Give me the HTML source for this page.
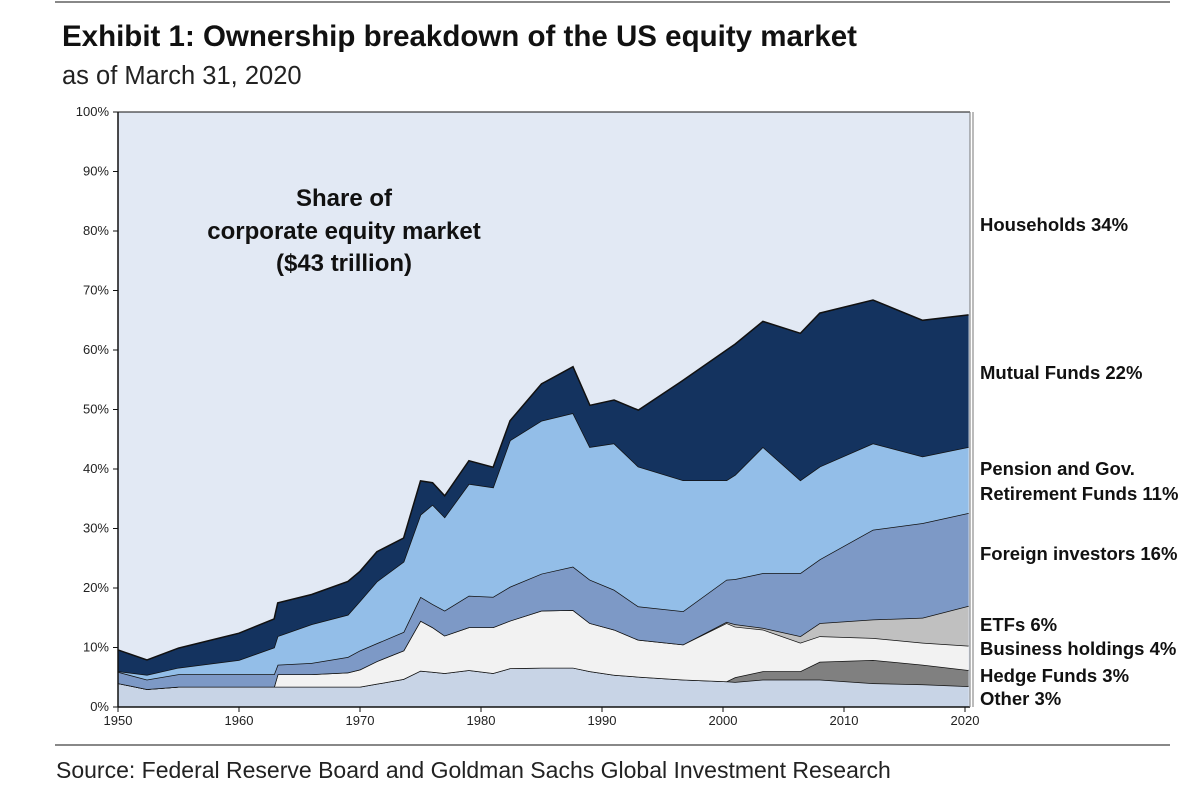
<!DOCTYPE html>
<html><head><meta charset="utf-8"><style>
html,body{margin:0;padding:0;background:#fff;}
body{width:1199px;height:801px;position:relative;overflow:hidden;font-family:"Liberation Sans",Arial,sans-serif;}
</style></head><body>
<svg id="chart" width="1199" height="801" xmlns="http://www.w3.org/2000/svg" font-family="Liberation Sans, Arial, sans-serif"></svg>
<script>
const years=[1950,1952.4,1955,1960,1962.9,1963.2,1966,1969,1970,1971.4,1973.6,1975,1976,1977,1979,1981,1982.4,1985,1987.6,1989,1991,1993,1996.7,2000.3,2001,2003.3,2006.4,2008,2012.4,2016.5,2020.3];
const other=[4.0,3.0,3.4,3.4,3.4,3.4,3.4,3.4,3.4,3.9,4.7,6.1,5.9,5.7,6.2,5.7,6.5,6.6,6.6,6.0,5.4,5.1,4.6,4.3,4.2,4.6,4.6,4.6,4.0,3.8,3.5];
const hedge=[0,0,0,0,0,0,0,0,0,0,0,0,0,0,0,0,0,0,0,0,0,0,0,0,0.8,1.4,1.4,3.0,3.9,3.3,2.7];
const business=[0,0,0,0,0,2.1,2.1,2.4,2.9,3.8,4.8,8.4,7.5,6.3,7.2,7.7,8.0,9.6,9.7,8.1,7.6,6.2,5.9,9.8,8.5,7.0,4.8,4.3,3.7,3.7,4.1];
const etfs=[0,0,0,0,0,0,0,0,0,0,0,0,0,0,0,0,0,0,0,0,0,0,0,0.2,0.4,0.3,1.1,2.2,3.1,4.2,6.7];
const foreign=[1.9,1.6,2.1,2.1,2.1,1.6,1.9,2.6,3.2,3.0,3.1,4.0,3.9,4.2,5.3,5.1,5.7,6.2,7.3,7.3,6.7,5.6,5.6,7.1,7.6,9.2,10.6,10.7,15.1,15.9,15.6];
const pension=[0.1,0.8,1.1,2.4,4.5,4.8,6.5,7.1,8.3,10.4,11.8,13.8,16.7,15.7,18.8,18.4,24.6,25.7,25.8,22.3,24.6,23.5,22.0,16.7,17.5,21.2,15.6,15.6,14.5,11.2,11.1];
const mutual=[3.6,2.5,3.3,4.5,4.8,5.6,5.0,5.6,5.0,5.0,4.0,5.7,3.7,3.6,3.9,3.4,3.3,6.2,7.8,7.0,7.3,9.5,16.8,21.9,22.0,21.1,24.7,25.8,24.1,22.9,22.2];
const yTicks=[0,10,20,30,40,50,60,70,80,90,100];
const xTicks=[1950,1960,1970,1980,1990,2000,2010,2020];
const labels=[["Households 34%",231],["Mutual Funds 22%",379],["Pension and Gov.",475],["Retirement Funds 11%",500],["Foreign investors 16%",560],["ETFs 6%",631],["Business holdings 4%",655],["Hedge Funds 3%",682],["Other 3%",705]];

const NS="http://www.w3.org/2000/svg";
const svg=document.getElementById('chart');
const X0=118,X1=970,Y0=707,Y1=112;
const xs=y=>X0+(y-1950)*(965-118)/70;
const ys=p=>Y0-p*(Y0-Y1)/100;
function mk(tag,attrs,parent){const e=document.createElementNS(NS,tag);for(const k in attrs)e.setAttribute(k,attrs[k]);(parent||svg).appendChild(e);return e;}

let e;
e=mk('line',{x1:55,y1:2,x2:1170,y2:2,stroke:'#888','stroke-width':2});


e=mk('text',{x:62,y:46,'font-size':29.5,'font-weight':'bold',fill:'#111'});e.textContent='Exhibit 1: Ownership breakdown of the US equity market';


e=mk('text',{x:62,y:84,'font-size':25.5,fill:'#222'});e.textContent='as of March 31, 2020';



e=mk('rect',{x:X0,y:Y1,width:X1-X0,height:Y0-Y1,fill:'#e2e9f4'});



const layers=[["other",other,"#c8d4e6"],["hedge-funds",hedge,"#808080"],["business-holdings",business,"#f2f2f2"],["etfs",etfs,"#c0c0c0"],["foreign-investors",foreign,"#7d99c6"],["pension-funds",pension,"#93bee8"],["mutual-funds",mutual,"#14335f"]];
let base=years.map(()=>0);
layers.forEach(([name,vals,col])=>{
  const top=base.map((b,i)=>b+vals[i]);
  let d='M'+years.map((y,i)=>xs(y).toFixed(1)+','+ys(top[i]).toFixed(1)).join('L');
  for(let i=years.length-1;i>=0;i--)d+='L'+xs(years[i]).toFixed(1)+','+ys(base[i]).toFixed(1);
  d+='Z';
  const p=mk('path',{d:d,fill:col,stroke:'none'});
  
  
  const l=mk('path',{d:'M'+years.map((y,i)=>xs(y).toFixed(1)+','+ys(top[i]).toFixed(1)).join('L'),fill:'none',stroke:'#111','stroke-width':1.5});
  
  
  base=top;
});

e=mk('line',{x1:X0,y1:Y1,x2:X0,y2:Y0,stroke:'#111','stroke-width':1.5});


e=mk('line',{x1:X0,y1:Y0,x2:X1,y2:Y0,stroke:'#111','stroke-width':1.5});


e=mk('line',{x1:X0,y1:Y1,x2:X1,y2:Y1,stroke:'#111','stroke-width':1});


e=mk('line',{x1:X1,y1:Y1,x2:X1,y2:Y0,stroke:'#777','stroke-width':1});


e=mk('line',{x1:X1+3,y1:Y1,x2:X1+3,y2:Y0,stroke:'#777','stroke-width':1});



yTicks.forEach(t=>{
  const y=ys(t);
  const tk=mk('line',{x1:X0-5,y1:y,x2:X0,y2:y,stroke:'#111','stroke-width':1});
  
  
  const tx=mk('text',{x:X0-9,y:y+4,'font-size':13,'text-anchor':'end',fill:'#222'});tx.textContent=t+'%';
  
  
});
xTicks.forEach(t=>{
  const x=xs(t);
  const tk=mk('line',{x1:x,y1:Y0,x2:x,y2:Y0+5,stroke:'#111','stroke-width':1});
  
  
  const tx=mk('text',{x:x,y:Y0+18,'font-size':13,'text-anchor':'middle',fill:'#222'});tx.textContent=t;
  
  
});

[["Share of",206],["corporate equity market",239],["($43 trillion)",271]].forEach(([s,y])=>{
  const tx=mk('text',{x:344,y:y,'font-size':24,'font-weight':'bold','text-anchor':'middle',fill:'#111'});tx.textContent=s;
  
  
});

labels.forEach(([s,y])=>{
  const tx=mk('text',{x:980,y:y,'font-size':18.5,'font-weight':'bold',fill:'#111'});tx.textContent=s;
  
  
});

e=mk('line',{x1:55,y1:745,x2:1170,y2:745,stroke:'#888','stroke-width':2});


e=mk('text',{x:56,y:778,'font-size':23,fill:'#222'});e.textContent='Source: Federal Reserve Board and Goldman Sachs Global Investment Research';


</script>
</body></html>
